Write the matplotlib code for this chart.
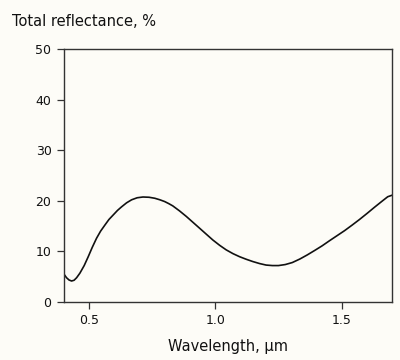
import numpy as np
import matplotlib
matplotlib.use("Agg")
import matplotlib.pyplot as plt

# reflectance curve
wavelength = [0.400, 0.410, 0.420, 0.430, 0.440, 0.450, 0.463, 0.480, 0.496, 0.512,
              0.529, 0.545, 0.562, 0.578, 0.595, 0.612, 0.628, 0.648, 0.668, 0.690,
              0.713, 0.737, 0.760, 0.780, 0.799, 0.815, 0.831, 0.858, 0.885, 0.911,
              0.937, 0.964, 0.990, 1.017, 1.043, 1.070, 1.096, 1.122, 1.148, 1.175,
              1.201, 1.226, 1.250, 1.277, 1.305, 1.335, 1.364, 1.394, 1.423, 1.452,
              1.482, 1.512, 1.542, 1.571, 1.601, 1.630, 1.660, 1.683, 1.700]
reflectance = [5.5, 4.8, 4.35, 4.15, 4.3, 4.8, 5.7, 7.2, 8.95, 10.8,
               12.6, 14.0, 15.2, 16.3, 17.2, 18.1, 18.8, 19.6, 20.2, 20.6,
               20.75, 20.7, 20.5, 20.2, 19.85, 19.45, 19.0, 18.0, 16.9, 15.75,
               14.6, 13.4, 12.25, 11.2, 10.3, 9.55, 8.95, 8.45, 8.0, 7.6,
               7.3, 7.2, 7.2, 7.4, 7.8, 8.5, 9.3, 10.2, 11.1, 12.1,
               13.1, 14.1, 15.2, 16.3, 17.5, 18.7, 19.9, 20.8, 21.1]

x_ticks = [0.5, 1.0, 1.5]
x_labels = ["0.5", "1.0", "1.5"]
y_ticks = [0, 10, 20, 30, 40, 50]

plt.rcParams['font.family'] = ['DejaVu Sans']

fig = plt.figure(figsize=(4.0, 3.6), dpi=100)
fig.patch.set_facecolor('#fdfcf7')
ax = fig.add_axes([64 / 400, 1 - 302 / 360, (392 - 64) / 400, (302 - 49) / 360])
ax.set_facecolor('#fdfcf7')

ax.plot(wavelength, reflectance, color='#111111', linewidth=1.2)

ax.set_xlim(0.4, 1.7)
ax.set_ylim(0, 50)
ax.set_xticks(x_ticks)
ax.set_xticklabels(x_labels)
ax.set_yticks(y_ticks)
ax.tick_params(direction='out', length=5, width=0.9, color='#333333',
               labelsize=9, labelcolor='#111111', pad=4)
for sp in ax.spines.values():
    sp.set_color('#333333')
    sp.set_linewidth(1.0)

fig.text(12 / 400, 1 - 22 / 360, 'Total reflectance, %', fontsize=10.5,
         color='#111111', ha='left', va='center')
fig.text(228 / 400, 1 - 346 / 360, 'Wavelength, µm', fontsize=10.5,
         color='#111111', ha='center', va='center')

fig.savefig('out.png', dpi=100, facecolor=fig.get_facecolor())
